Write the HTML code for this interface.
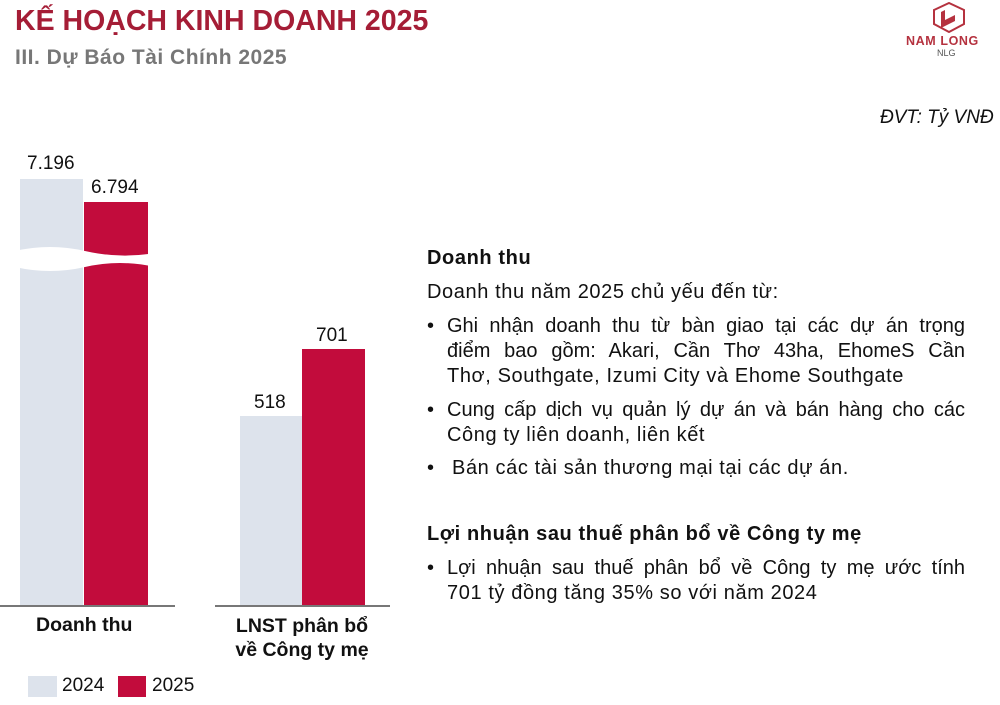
<!DOCTYPE html>
<html><head><meta charset="utf-8"><style>
body{margin:0;width:1000px;height:705px;background:#fff;position:relative;overflow:hidden;font-family:"Liberation Sans",Arial,sans-serif;color:#111}
.a{position:absolute;white-space:nowrap}
.t{font-size:20px;line-height:25px;letter-spacing:0.6px}
.j{text-align:justify;text-align-last:justify;white-space:normal;letter-spacing:0}
</style></head><body>
<div class="a" style="left:15px;top:5px;font-size:28.5px;font-weight:bold;color:#a51d36">KẾ HOẠCH KINH DOANH 2025</div>
<div class="a" style="left:15px;top:46px;font-size:21px;font-weight:bold;color:#777;letter-spacing:0.5px">III. Dự Báo Tài Chính 2025</div>
<svg class="a" style="left:928px;top:2px" width="42" height="32" viewBox="0 0 40 32"><path d="M5 8 L20 1 L35 8 L35 22 L20 30 L5 22Z" fill="none" stroke="#b5323f" stroke-width="2"/><path d="M12 10 L16 8 L16 18 L26 13 L26 19 L12 26Z" fill="#b5323f"/></svg>
<div class="a" style="left:906px;top:34px;font-size:12.5px;font-weight:bold;color:#b5323f;letter-spacing:0.6px">NAM LONG</div>
<div class="a" style="left:937px;top:48px;font-size:9px;color:#555">NLG</div>
<div class="a" style="left:880px;top:107px;font-size:19px;font-style:italic">ĐVT: Tỷ VNĐ</div>

<div class="a" style="left:20px;top:179px;width:63px;height:427px;background:#dde3ec"></div>
<div class="a" style="left:84px;top:202px;width:64px;height:404px;background:#c20c3c"></div>
<svg class="a" style="left:15px;top:245px" width="140" height="30"><path d="M0 6 Q35 -2 70 6 T140 8 L140 22 Q105 14 70 22 T0 22Z" fill="#fff"/></svg>
<div class="a" style="left:27px;top:153px;font-size:19px">7.196</div>
<div class="a" style="left:91px;top:177px;font-size:19px">6.794</div>
<div class="a" style="left:0;top:605px;width:175px;height:2px;background:#777"></div>

<div class="a" style="left:240px;top:416px;width:62px;height:190px;background:#dde3ec"></div>
<div class="a" style="left:302px;top:349px;width:63px;height:257px;background:#c20c3c"></div>
<div class="a" style="left:254px;top:392px;font-size:19px">518</div>
<div class="a" style="left:316px;top:325px;font-size:19px">701</div>
<div class="a" style="left:215px;top:605px;width:175px;height:2px;background:#777"></div>

<div class="a" style="left:36px;top:614px;font-size:19.5px;font-weight:bold">Doanh thu</div>
<div class="a" style="left:226px;top:614px;width:152px;text-align:center;font-size:19.5px;font-weight:bold;line-height:24px">LNST phân bổ<br>về Công ty mẹ</div>

<div class="a" style="left:28px;top:676px;width:29px;height:21px;background:#dde3ec"></div>
<div class="a" style="left:62px;top:675px;font-size:19px">2024</div>
<div class="a" style="left:118px;top:676px;width:28px;height:21px;background:#c20c3c"></div>
<div class="a" style="left:152px;top:675px;font-size:19px">2025</div>

<div class="a t" style="left:427px;top:246px;font-weight:bold">Doanh thu</div>
<div class="a t" style="left:427px;top:280px">Doanh thu năm 2025 chủ yếu đến từ:</div>
<div class="a t" style="left:427px;top:314px">•</div>
<div class="a t j" style="left:447px;top:314px;width:518px">Ghi nhận doanh thu từ bàn giao tại các dự án trọng</div>
<div class="a t j" style="left:447px;top:339px;width:518px">điểm bao gồm: Akari, Cần Thơ 43ha, EhomeS Cần</div>
<div class="a t" style="left:447px;top:364px">Thơ, Southgate, Izumi City và Ehome Southgate</div>
<div class="a t" style="left:427px;top:398px">•</div>
<div class="a t j" style="left:447px;top:398px;width:518px">Cung cấp dịch vụ quản lý dự án và bán hàng cho các</div>
<div class="a t" style="left:447px;top:423px">Công ty liên doanh, liên kết</div>
<div class="a t" style="left:427px;top:456px">•</div>
<div class="a t" style="left:452px;top:456px">Bán các tài sản thương mại tại các dự án.</div>

<div class="a t" style="left:427px;top:522px;font-weight:bold">Lợi nhuận sau thuế phân bổ về Công ty mẹ</div>
<div class="a t" style="left:427px;top:556px">•</div>
<div class="a t j" style="left:447px;top:556px;width:518px">Lợi nhuận sau thuế phân bổ về Công ty mẹ ước tính</div>
<div class="a t" style="left:447px;top:581px">701 tỷ đồng tăng 35% so với năm 2024</div>
</body></html>
